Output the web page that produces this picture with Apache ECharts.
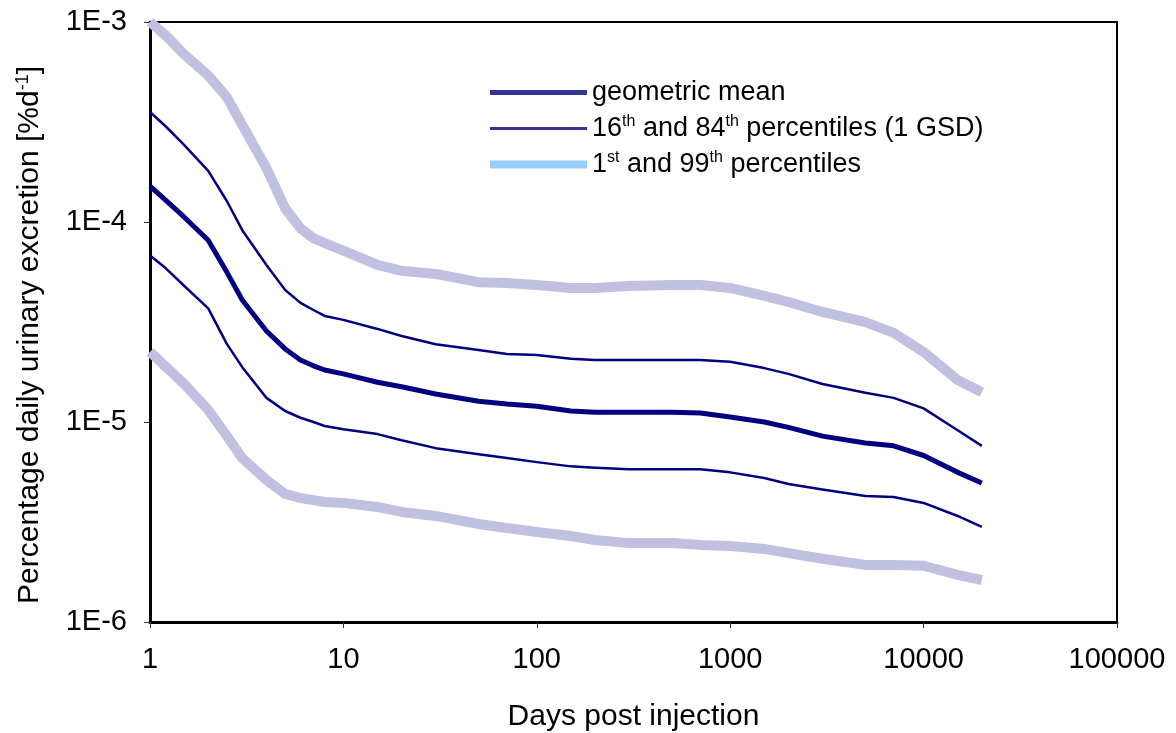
<!DOCTYPE html>
<html>
<head>
<meta charset="utf-8">
<script src="https://cdn.jsdelivr.net/npm/echarts@6/dist/echarts.min.js"></script>
<style>
  html, body { margin: 0; padding: 0; background: #fff; }
  #chart { width: 1176px; height: 733px; }
</style>
</head>
<body>
<div id="chart"></div>
<script>
// Days post injection (log scale)
const days = [1, 1.2, 1.5, 2, 2.5, 3, 4, 5, 6, 7, 8, 10, 15, 20, 30, 50, 70, 100, 150, 200,
  300, 500, 700, 1000, 1500, 2000, 3000, 5000, 7000, 10000, 15000, 20000];

// Percentage daily urinary excretion [%d-1]
const geoMean = [1.51e-4, 1.29e-4, 1.06e-4, 8.1e-5, 5.6e-5, 4.07e-5, 2.85e-5, 2.32e-5, 2.04e-5, 1.91e-5,
  1.82e-5, 1.74e-5, 1.58e-5, 1.50e-5, 1.38e-5, 1.27e-5, 1.23e-5, 1.20e-5, 1.135e-5, 1.12e-5,
  1.12e-5, 1.12e-5, 1.11e-5, 1.06e-5, 1.0e-5, 9.4e-6, 8.5e-6, 7.85e-6, 7.6e-6, 6.8e-6, 5.6e-6, 4.95e-6];

const p84 = [3.55e-4, 3.02e-4, 2.43e-4, 1.8e-4, 1.27e-4, 9.1e-5, 6.1e-5, 4.57e-5, 3.94e-5, 3.63e-5,
  3.39e-5, 3.24e-5, 2.92e-5, 2.69e-5, 2.45e-5, 2.29e-5, 2.19e-5, 2.16e-5, 2.07e-5, 2.04e-5,
  2.04e-5, 2.04e-5, 2.04e-5, 2.0e-5, 1.86e-5, 1.74e-5, 1.55e-5, 1.40e-5, 1.32e-5, 1.17e-5, 9.1e-6, 7.6e-6];

const p16 = [6.8e-5, 5.9e-5, 4.8e-5, 3.7e-5, 2.45e-5, 1.88e-5, 1.32e-5, 1.135e-5, 1.05e-5, 1.0e-5,
  9.55e-6, 9.2e-6, 8.7e-6, 8.1e-6, 7.4e-6, 6.9e-6, 6.6e-6, 6.3e-6, 6.0e-6, 5.9e-6,
  5.8e-6, 5.8e-6, 5.8e-6, 5.6e-6, 5.25e-6, 4.9e-6, 4.6e-6, 4.27e-6, 4.22e-6, 3.94e-6, 3.39e-6, 2.99e-6];

const p99 = [1.0e-3, 8.6e-4, 6.9e-4, 5.4e-4, 4.2e-4, 3.05e-4, 1.86e-4, 1.17e-4, 9.3e-5, 8.3e-5,
  7.85e-5, 7.2e-5, 6.1e-5, 5.7e-5, 5.5e-5, 5.0e-5, 4.95e-5, 4.84e-5, 4.68e-5, 4.68e-5,
  4.78e-5, 4.84e-5, 4.84e-5, 4.68e-5, 4.27e-5, 3.98e-5, 3.55e-5, 3.16e-5, 2.79e-5, 2.24e-5, 1.62e-5, 1.41e-5];

const p1 = [2.24e-5, 1.9e-5, 1.55e-5, 1.15e-5, 8.5e-6, 6.6e-6, 5.13e-6, 4.37e-6, 4.17e-6, 4.07e-6,
  3.98e-6, 3.94e-6, 3.76e-6, 3.55e-6, 3.39e-6, 3.09e-6, 2.95e-6, 2.82e-6, 2.69e-6, 2.57e-6,
  2.48e-6, 2.48e-6, 2.43e-6, 2.4e-6, 2.32e-6, 2.21e-6, 2.07e-6, 1.93e-6, 1.93e-6, 1.91e-6, 1.72e-6, 1.62e-6];

const NAME_MEAN = 'geometric mean';
const NAME_GSD = '16th and 84th percentiles (1 GSD)';
const NAME_EXT = '1st and 99th percentiles';

const FONT = '"Liberation Sans", Arial, sans-serif';
const NAVY = '#000080';
const LAVENDER = '#c0c0e0';

const pairs = ys => days.map((d, i) => [d, ys[i]]);

function lineSeries(name, ys, color, width) {
  return {
    name: name,
    type: 'line',
    data: pairs(ys),
    symbol: 'none',
    showSymbol: false,
    smooth: false,
    lineStyle: { color: color, width: width, cap: 'butt', join: 'round' },
    itemStyle: { color: color },
    emphasis: { disabled: true },
    animation: false
  };
}

// superscript ordinal suffixes in legend labels
function supFormat(name) {
  return name.replace(/(\d)(st|th)\b/g, '$1{sup|$2}');
}

const chart = echarts.init(document.getElementById('chart'), null, { renderer: 'canvas' });

chart.setOption({
  backgroundColor: '#fff',
  animation: false,
  textStyle: { fontFamily: FONT },
  grid: {
    left: 150, right: 59, top: 22, bottom: 111,
    containLabel: false,
    outerBoundsMode: 'none',
    show: true, borderColor: '#000', borderWidth: 2, backgroundColor: 'transparent'
  },
  legend: {
    orient: 'vertical',
    left: 486, top: 78,
    padding: 0,
    itemWidth: 97, itemHeight: 24, itemGap: 7,
    selectedMode: false,
    formatter: supFormat,
    textStyle: {
      fontFamily: FONT, fontSize: 27, color: '#000', lineHeight: 29,
      rich: {
        sup: { fontFamily: FONT, fontSize: 16, lineHeight: 16, verticalAlign: 'top', color: '#000' }
      }
    },
    data: [
      { name: NAME_MEAN, lineStyle: { color: '#333399', width: 5 }, itemStyle: { opacity: 0 } },
      { name: NAME_GSD, lineStyle: { color: '#333399', width: 3 }, itemStyle: { opacity: 0 } },
      { name: NAME_EXT, lineStyle: { color: '#99ccff', width: 8 }, itemStyle: { opacity: 0 } }
    ]
  },
  xAxis: {
    type: 'log', logBase: 10, min: 1, max: 100000,
    name: 'Days post injection',
    nameLocation: 'middle', nameGap: 80,
    nameTextStyle: { fontFamily: FONT, fontSize: 30, color: '#000' },
    axisLine: { show: true, lineStyle: { color: '#000', width: 3 } },
    axisTick: { show: true, inside: false, length: 6, lineStyle: { color: '#333', width: 1 } },
    axisLabel: {
      fontFamily: FONT, fontSize: 29, color: '#000', margin: 23,
      formatter: v => String(Math.round(v))
    },
    splitLine: { show: false },
    minorTick: { show: false }
  },
  yAxis: {
    type: 'log', logBase: 10, min: 1e-6, max: 1e-3,
    name: 'Percentage daily urinary excretion [%d{sup|-1}]',
    nameLocation: 'middle', nameGap: 104, nameRotate: 90,
    nameTextStyle: {
      fontFamily: FONT, fontSize: 30, color: '#000', lineHeight: 32,
      padding: [0, 26, 0, 0],
      rich: { sup: { fontFamily: FONT, fontSize: 18, lineHeight: 18, verticalAlign: 'top', color: '#000' } }
    },
    axisLine: { show: true, lineStyle: { color: '#000', width: 3 } },
    axisTick: { show: true, inside: false, length: 6, lineStyle: { color: '#333', width: 1 } },
    axisLabel: {
      fontFamily: FONT, fontSize: 29, color: '#000', margin: 23,
      formatter: v => '1E' + Math.round(Math.log10(v))
    },
    splitLine: { show: false },
    minorTick: { show: false }
  },
  series: [
    lineSeries(NAME_EXT, p99, LAVENDER, 10),
    lineSeries(NAME_EXT, p1, LAVENDER, 10),
    lineSeries(NAME_GSD, p84, NAVY, 2.5),
    lineSeries(NAME_GSD, p16, NAVY, 2.5),
    lineSeries(NAME_MEAN, geoMean, NAVY, 5)
  ]
});
</script>
</body>
</html>
